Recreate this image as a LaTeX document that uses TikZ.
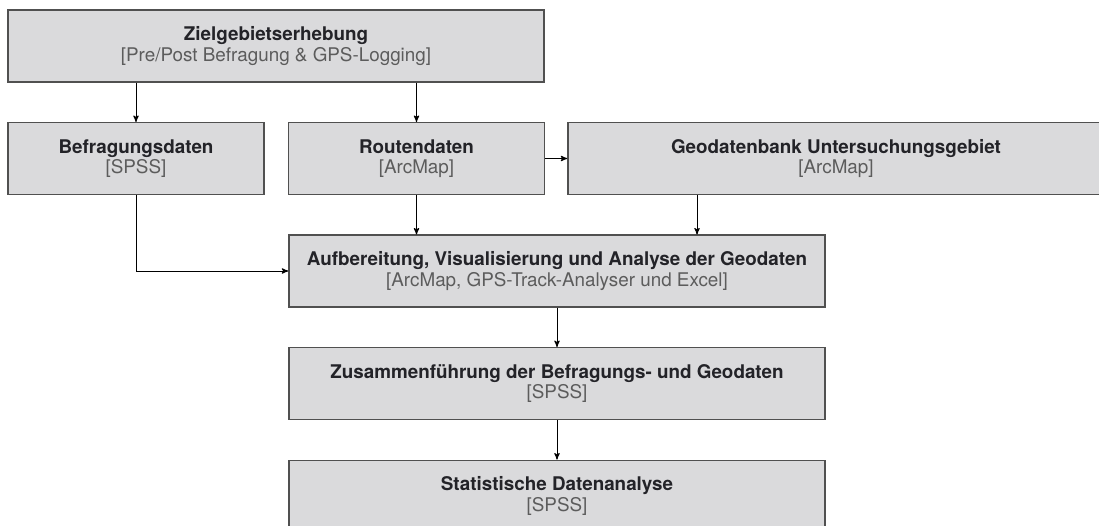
\documentclass[tikz,border=0pt]{standalone}
\usepackage{fontspec}
\setmainfont{TeX Gyre Heros}
\usetikzlibrary{arrows}
\definecolor{boxfill}{RGB}{218,218,220}
\definecolor{boxline}{RGB}{80,80,80}
\definecolor{headtext}{RGB}{35,35,40}
\definecolor{subtext}{RGB}{92,92,92}

\begin{document}
\begin{tikzpicture}[x=0.025cm,y=-0.025cm,->,>=stealth',line width=0.7pt,node distance=2.8125cm,
  main node/.style={rectangle,fill=boxfill,draw=boxline,line width=1pt,align=center,inner sep=0pt,
    minimum width=13.4cm,minimum height=1.79cm,text=headtext,font=\fontsize{13.4}{14.5}\selectfont},
  small node/.style={main node,minimum width=6.4cm}]
  \useasboundingbox (0,0) rectangle (1099,526);
  \clip (0,0) rectangle (1099,526);

  \node[main node] (ziel) at (276,46) {\textbf{Zielgebietserhebung}\\ \textcolor{subtext}{[Pre/Post Befragung \& GPS-Logging]}};
  \node[small node] (befr) at (136,158.5) {\textbf{Befragungsdaten}\\ \textcolor{subtext}{[SPSS]}};
  \node[small node] (route) at (416.5,158.5) {\textbf{Routendaten}\\ \textcolor{subtext}{[ArcMap]}};
  \node[main node] (geo) at (836,158.5) {\textbf{Geodatenbank Untersuchungsgebiet}\\ \textcolor{subtext}{[ArcMap]}};
  \node[main node] (aufb) at (557,271) {\textbf{Aufbereitung, Visualisierung und Analyse der Geodaten}\\ \textcolor{subtext}{[ArcMap, GPS-Track-Analyser und Excel]}};
  \node[main node] (zus) [below of=aufb] {\textbf{Zusammenführung der Befragungs- und Geodaten}\\ \textcolor{subtext}{[SPSS]}};
  \node[main node] (stat) [below of=zus] {\textbf{Statistische Datenanalyse}\\ \textcolor{subtext}{[SPSS]}};

  \coordinate (gin) at ([xshift=3.5cm]aufb.north);

  \path
(ziel.south -| befr) edge (befr)
(ziel.south -| route) edge (route)
(route) edge (geo)
      edge (route |- aufb.north)
(gin |- geo.south) edge (gin)
(aufb) edge (zus)
(zus) edge (stat);
  \draw (befr) |- (aufb);
\end{tikzpicture}
\end{document}
